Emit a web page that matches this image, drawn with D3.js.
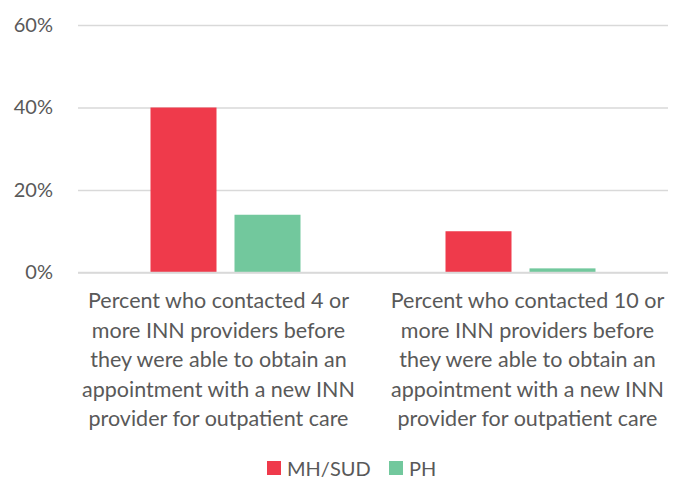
<!DOCTYPE html>
<html>
<head>
<meta charset="utf-8">
<script src="https://cdn.jsdelivr.net/npm/d3@7"></script>
<style>
  body { margin: 0; background: #fff; }
  text { font-family: Lato, "Open Sans", sans-serif; fill: #595959; }
</style>
</head>
<body>
<script>
// chart data
var categories = [
  ["Percent who contacted 4 or", "more INN providers before", "they were able to obtain an", "appointment with a new INN", "provider for outpatient care"],
  ["Percent who contacted 10 or", "more INN providers before", "they were able to obtain an", "appointment with a new INN", "provider for outpatient care"]
];
var series = ["MH/SUD", "PH"];
var mhsud = [0.40, 0.10];
var ph = [0.14, 0.01];
var yTicks = [0, 0.2, 0.4, 0.6];
var colors = ["#EF3A4B", "#72C89D"];

var w = 687, h = 485;
var plotLeft = 78, plotRight = 668, plotTop = 25, plotBottom = 272.5;

var svg = d3.select("body").append("svg")
  .attr("width", w)
  .attr("height", h);

var y = d3.scaleLinear().domain([0, 0.6]).range([plotBottom, plotTop]);

var x0 = d3.scaleBand()
  .domain([0, 1])
  .range([plotLeft, plotRight])
  .padding(0);

var bw = x0.bandwidth();
var x1 = d3.scaleBand()
  .domain(series)
  .range([bw / 2 - 75, bw / 2 + 75])
  .paddingInner(18 / 84)
  .paddingOuter(0);

// grid lines + tick labels
var yAxis = d3.axisLeft(y)
  .tickValues(yTicks)
  .tickSize(-(plotRight - plotLeft))
  .tickPadding(25)
  .tickFormat(d3.format(".0%"));

var gy = svg.append("g")
  .attr("transform", "translate(" + plotLeft + ",0)")
  .call(yAxis);
gy.select(".domain").remove();
gy.selectAll(".tick line").attr("stroke", "#D9D9D9").attr("stroke-width", 1.5);
gy.selectAll(".tick text")
  .attr("font-size", "20px")
  .attr("fill", "#595959")
  .style("font-family", "Lato, sans-serif");

// bars
var values = [mhsud, ph];
series.forEach(function(s, si) {
  svg.selectAll(".bar" + si)
    .data(values[si])
    .enter()
    .append("rect")
    .attr("class", "bar" + si)
    .attr("x", function(d, i) { return x0(i) + x1(s); })
    .attr("width", x1.bandwidth())
    .attr("y", function(d) { return y(d); })
    .attr("height", function(d) { return plotBottom - y(d); })
    .attr("fill", colors[si]);
});

// baseline again, over the bars
svg.append("line")
  .attr("x1", plotLeft).attr("x2", plotRight)
  .attr("y1", y(0)).attr("y2", y(0))
  .attr("stroke", "#D9D9D9")
  .attr("stroke-width", 1.5);

// category labels (excel spreads them out a bit from the band centers)
var labelShift = [-7, 7];
categories.forEach(function(lines, i) {
  var cx = x0(i) + bw / 2 + labelShift[i];
  var t = svg.append("text")
    .attr("x", cx)
    .attr("y", 308)
    .attr("text-anchor", "middle")
    .attr("font-size", "21.5px");
  lines.forEach(function(l, j) {
    t.append("tspan")
      .attr("x", cx)
      .attr("dy", j == 0 ? 0 : 29.5)
      .text(l);
  });
});

// legend
var legX = [267, 389];
series.forEach(function(s, si) {
  svg.append("rect")
    .attr("x", legX[si])
    .attr("y", 461)
    .attr("width", 14)
    .attr("height", 14)
    .attr("fill", colors[si]);
  svg.append("text")
    .attr("x", legX[si] + 20)
    .attr("y", 475.5)
    .attr("font-size", "20px")
    .text(s);
});
</script>
</body>
</html>
